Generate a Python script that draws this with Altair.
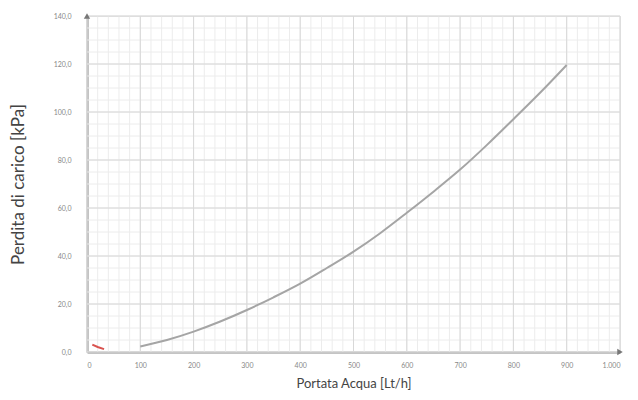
import altair as alt
import pandas as pd

# Main curve: Portata Acqua [Lt/h] vs Perdita di carico [kPa]
flow = [100, 150, 200, 250, 300, 350, 400, 450, 500, 550, 600, 650, 700, 750, 800, 850, 900]
loss = [2.3, 5.0, 8.5, 12.7, 17.5, 22.8, 28.5, 35.0, 41.8, 49.5, 58.0, 66.8, 76.0, 86.2, 97.0, 108.0, 119.6]

# Small red segment near origin
red_flow = [10, 20, 32]
red_loss = [3.1, 2.1, 1.2]

x_ticks = [0, 100, 200, 300, 400, 500, 600, 700, 800, 900, 1000]
y_ticks = [0, 20, 40, 60, 80, 100, 120, 140]
x_minor = list(range(0, 1001, 20))
y_minor = list(range(0, 141, 5))

X_DOM = [0, 1000]
Y_DOM = [0, 140]

df = pd.DataFrame({"q": flow, "p": loss})
df_red = pd.DataFrame({"q": red_flow, "p": red_loss})

xs = alt.Scale(domain=X_DOM, nice=False, zero=False)
ys = alt.Scale(domain=Y_DOM, nice=False, zero=False)

minor_v = alt.Chart(pd.DataFrame({"v": x_minor})).mark_rule(color="#ececec", strokeWidth=1).encode(
    x=alt.X("v:Q", scale=xs), y=alt.value(0), y2=alt.value(336))
minor_h = alt.Chart(pd.DataFrame({"v": y_minor})).mark_rule(color="#ececec", strokeWidth=1).encode(
    y=alt.Y("v:Q", scale=ys), x=alt.value(0), x2=alt.value(533))
major_v = alt.Chart(pd.DataFrame({"v": x_ticks})).mark_rule(color="#d8d8d8", strokeWidth=1).encode(
    x=alt.X("v:Q", scale=xs), y=alt.value(0), y2=alt.value(336))
major_h = alt.Chart(pd.DataFrame({"v": y_ticks})).mark_rule(color="#d8d8d8", strokeWidth=1).encode(
    y=alt.Y("v:Q", scale=ys), x=alt.value(0), x2=alt.value(533))

curve = alt.Chart(df).mark_line(color="#a5a5a5", strokeWidth=2, interpolate="monotone").encode(
    x=alt.X("q:Q", scale=xs,
            axis=alt.Axis(values=x_ticks, title="Portata Acqua [Lt/h]", grid=False, ticks=False,
                          domainColor="#8a8a8a", domainWidth=2,
                          labelFontSize=7, labelColor="#888", labelPadding=9,
                          labelExpr="datum.value == 1000 ? '1.000' : datum.label",
                          titleFontSize=13, titleFontWeight="normal", titleColor="#444",
                          titlePadding=9, titleFont="Lato", labelFont="Lato")),
    y=alt.Y("p:Q", scale=ys,
            axis=alt.Axis(values=y_ticks, title="Perdita di carico [kPa]", grid=False, ticks=False,
                          domainColor="#8a8a8a", domainWidth=2,
                          labelFontSize=7, labelColor="#888", labelPadding=16,
                          labelExpr="replace(format(datum.value, '.1f'), '.', ',')",
                          titleFontSize=17, titleFontWeight="normal", titleColor="#444",
                          titlePadding=26, titleFont="Lato", labelFont="Lato")),
)

red = alt.Chart(df_red).mark_line(color="#d9534f", strokeWidth=2).encode(
    x=alt.X("q:Q", scale=xs), y=alt.Y("p:Q", scale=ys))

arrow_up = alt.Chart(pd.DataFrame({"q": [0], "p": [140]})).mark_point(
    shape="triangle-up", filled=True, color="#777", size=40, opacity=1).encode(
    x=alt.X("q:Q", scale=xs), y=alt.Y("p:Q", scale=ys))
arrow_right = alt.Chart(pd.DataFrame({"q": [1000], "p": [0]})).mark_point(
    shape="triangle-right", filled=True, color="#777", size=40, opacity=1).encode(
    x=alt.X("q:Q", scale=xs), y=alt.Y("p:Q", scale=ys))

chart = alt.layer(minor_v, minor_h, major_v, major_h, curve, red, arrow_up, arrow_right).properties(
    width=533, height=336,
    autosize=alt.AutoSizeParams(type="none"),
    padding={"left": 79, "top": 8, "right": 10, "bottom": 48},
).configure_view(stroke=None).configure(background="white")

chart.save("out.html", embed_options={"renderer": "svg", "actions": False})
